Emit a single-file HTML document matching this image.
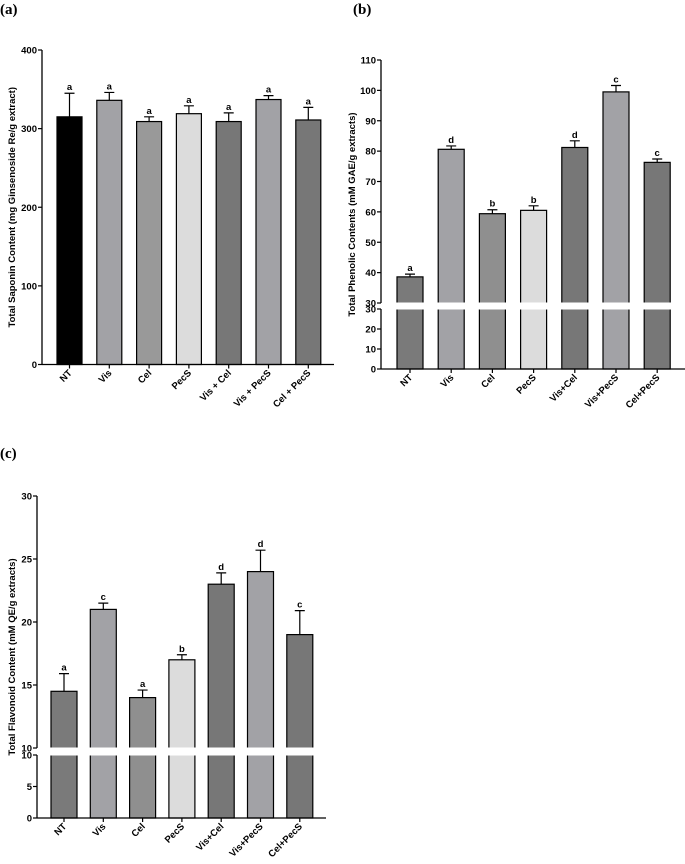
<!DOCTYPE html>
<html><head><meta charset="utf-8">
<style>
body{margin:0;background:#fff;width:685px;height:864px;overflow:hidden}
svg{display:block}
.p{font-family:"Liberation Serif",serif;font-weight:bold;font-size:15px;fill:#000}
</style></head>
<body>
<svg id="s" width="685" height="864">
<text class="p" x="0" y="14">(a)</text>
<text class="p" x="353" y="14">(b)</text>
<text class="p" x="0" y="458">(c)</text>
</svg>
<script>
const catsA=["NT","Vis","Cel","PecS","Vis + Cel","Vis + PecS","Cel + PecS"];
const valsA=[315,336,309,319,309,337,311];
const errA=[30,10,6,10,11,5,16];
const lettersA=["a","a","a","a","a","a","a"];
const ticksA=[0,100,200,300,400];

const catsB=["NT","Vis","Cel","PecS","Vis+Cel","Vis+PecS","Cel+PecS"];
const valsB=[38.6,80.6,59.4,60.5,81.2,99.5,76.3];
const errB=[0.9,1.1,1.3,1.5,2.2,2.1,1.1];
const lettersB=["a","d","b","b","d","c","c"];
const ticksB=[0,10,20,30,30,40,50,60,70,80,90,100,110];

const catsC=["NT","Vis","Cel","PecS","Vis+Cel","Vis+PecS","Cel+PecS"];
const valsC=[14.5,21,14,17,23,24,19];
const errC=[1.4,0.5,0.6,0.4,0.9,1.7,1.9];
const lettersC=["a","c","a","b","d","d","c"];
const ticksC=[0,5,10,10,15,20,25,30];

const NS="http://www.w3.org/2000/svg";
const svg=document.getElementById('s');
const FONT={'font-family':'Liberation Sans, Arial, sans-serif','font-weight':'bold','font-size':'9.5','fill':'#000'};
function mk(tag,attrs,parent){const e=document.createElementNS(NS,tag);for(const k in attrs)e.setAttribute(k,attrs[k]);if(tag==='text'){for(const k in FONT)e.setAttribute(k,FONT[k]);}(parent||svg).appendChild(e);return e;}

function panel(o){
  const g=mk('g',{});
  
  
  const segs=o.segs;
  function y(v){
    for(const s of segs){ if(v>=s.v0-1e-9 && v<=s.v1+1e-9) return s.p0+(v-s.v0)/(s.v1-s.v0)*(s.p1-s.p0);}
    const s=segs[segs.length-1];return s.p0+(v-s.v0)/(s.v1-s.v0)*(s.p1-s.p0);
  }
  const base=segs[0].p0, top=segs[segs.length-1].p1;
  const xc=i=>o.x0+i*o.step;
  o.vals.forEach((v,i)=>{
    const r=mk('rect',{x:xc(i)-o.bw/2,y:y(v),width:o.bw,height:base-y(v),fill:o.colors[i],stroke:'#000','stroke-width':1.2},g);
    
    
    const ye=y(v+o.err[i]);
    const e=mk('path',{d:`M${xc(i)} ${y(v)}V${ye}M${xc(i)-5} ${ye}H${xc(i)+5}`,stroke:'#000','stroke-width':1.2,fill:'none'},g);
    
    
    const t=mk('text',{x:xc(i),y:ye-3,'text-anchor':'middle'},g);
    t.textContent=o.letters[i];
    
    
  });
  if(segs.length>1){
    const gy0=segs[0].p1+0.5, gy1=segs[1].p0-0.5;
    const w=mk('rect',{x:o.ax-6,y:gy1,width:o.xend-o.ax+6,height:gy0-gy1,fill:'#fff'},g);
    
    
  }
  segs.forEach(s=>{
    const l=mk('line',{x1:o.ax,x2:o.ax,y1:s.p0,y2:s.p1,stroke:'#000','stroke-width':1.3},g);
    
    
  });
  const xa=mk('line',{x1:o.ax,x2:o.xend,y1:base,y2:base,stroke:'#000','stroke-width':1.3},g);
  
  
  o.ticks.forEach((tv,k)=>{
    let py;
    if(segs.length>1 && k>0 && o.ticks[k-1]===tv) py=segs[1].p0; else py=(segs.length>1&&tv===segs[0].v1&&o.ticks[k+1]===tv)?segs[0].p1:y(tv);
    mk('line',{x1:o.ax-4,x2:o.ax,y1:py,y2:py,stroke:'#000','stroke-width':1.2},g);
    const t=mk('text',{x:o.ax-5,y:py+3.5,'text-anchor':'end'},g);
    t.textContent=tv;
    
    
  });
  o.cats.forEach((c,i)=>{
    mk('line',{x1:xc(i),x2:xc(i),y1:base,y2:base+4,stroke:'#000','stroke-width':1.2},g);
    const t=mk('text',{x:xc(i)+3,y:base+9,'text-anchor':'end',transform:`rotate(-45 ${xc(i)+3} ${base+9})`},g);
    t.textContent=c;
    
    
  });
  const ym=(base+top)/2;
  const yt=mk('text',{x:o.titleX,y:ym,'text-anchor':'middle',transform:`rotate(-90 ${o.titleX} ${ym})`},g);
  yt.textContent=o.title;
  
  
}

panel({name:'chart-saponin',cats:catsA,vals:valsA,err:errA,letters:lettersA,ticks:ticksA,
  segs:[{v0:0,v1:400,p0:364.5,p1:50}],ax:42,xend:334,x0:69.5,step:39.8,bw:25,titleX:15,
  colors:['#000','#a2a2a6','#999','#dcdcdc','#777','#a2a2a6','#777'],
  title:'Total Saponin Content (mg Ginsenoside Re/g extract)'});
panel({name:'chart-phenolic',cats:catsB,vals:valsB,err:errB,letters:lettersB,ticks:ticksB,
  segs:[{v0:0,v1:30,p0:369,p1:309},{v0:30,v1:110,p0:303,p1:60}],ax:381,xend:685,x0:410,step:41.2,bw:26,titleX:355,
  colors:['#7a7a7a','#a2a2a6','#8f8f8f','#dcdcdc','#777','#a2a2a6','#777'],
  title:'Total Phenolic Contents (mM GAE/g extracts)'});
panel({name:'chart-flavonoid',cats:catsC,vals:valsC,err:errC,letters:lettersC,ticks:ticksC,
  segs:[{v0:0,v1:10,p0:818,p1:755},{v0:10,v1:30,p0:748,p1:496}],ax:37,xend:326,x0:64,step:39.3,bw:26,titleX:15,
  colors:['#7a7a7a','#a2a2a6','#8f8f8f','#dcdcdc','#777','#a2a2a6','#777'],
  title:'Total Flavonoid Content (mM QE/g extracts)'});
</script>
</body></html>
